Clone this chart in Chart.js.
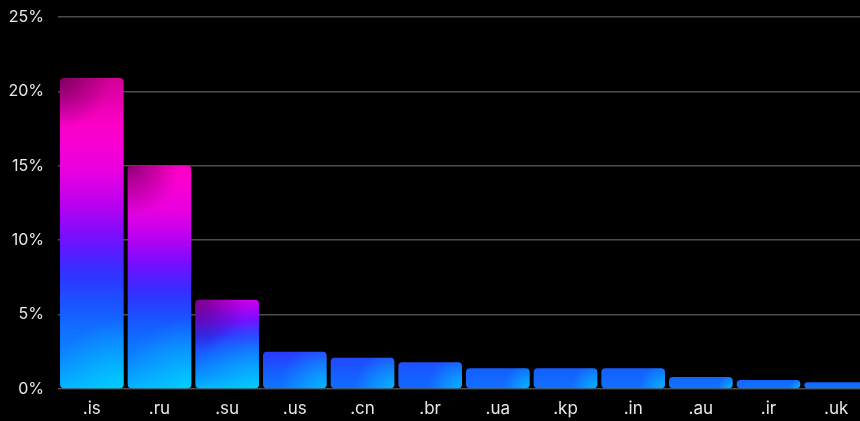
<!DOCTYPE html>
<html>
<head>
<meta charset="utf-8">
<script src="https://cdn.jsdelivr.net/npm/chart.js@4"></script>
<style>
  html, body { margin: 0; padding: 0; background: #000; overflow: hidden; }
  #wrap { width: 870px; height: 421px; position: relative; }
</style>
</head>
<body>
<div id="wrap"><canvas id="tldChart"></canvas></div>
<script>
const domains = ['.is', '.ru', '.su', '.us', '.cn', '.br', '.ua', '.kp', '.in', '.au', '.ir', '.uk'];
const shares = [20.9, 15.0, 6.0, 2.5, 2.1, 1.8, 1.4, 1.4, 1.4, 0.8, 0.6, 0.45];
const yTicks = [0, 5, 10, 15, 20, 25];

// colour ramp, cyan at the bottom up to magenta at the top
const ramp = [
  [0.00, [0, 220, 255]],
  [0.15, [8, 144, 255]],
  [0.30, [20, 96, 255]],
  [0.42, [46, 50, 255]],
  [0.52, [112, 16, 255]],
  [0.62, [184, 0, 240]],
  [0.72, [232, 0, 224]],
  [0.85, [255, 0, 204]],
  [1.00, [210, 0, 150]]
];

// value -> how far up the ramp the top of a bar reaches
const reach = [[0, 0.27], [1.5, 0.31], [2.5, 0.40], [6, 0.66], [15, 0.88], [21, 1.0]];

function lerpTable(table, x) {
  if (x <= table[0][0]) return table[0][1];
  for (let i = 1; i < table.length; i++) {
    if (x <= table[i][0]) {
      const k = (x - table[i - 1][0]) / (table[i][0] - table[i - 1][0]);
      return table[i - 1][1] + (table[i][1] - table[i - 1][1]) * k;
    }
  }
  return table[table.length - 1][1];
}

function rampColor(t) {
  t = Math.max(0, Math.min(1, t));
  for (let i = 1; i < ramp.length; i++) {
    if (t <= ramp[i][0]) {
      const [t0, c0] = ramp[i - 1];
      const [t1, c1] = ramp[i];
      const k = (t - t0) / (t1 - t0);
      return 'rgb(' + c0.map((c, j) => Math.round(c + (c1[j] - c) * k)).join(',') + ')';
    }
  }
  return 'rgb(' + ramp[ramp.length - 1][1].join(',') + ')';
}

function topT(v) { return lerpTable(reach, v); }
function bottomT(v) { return Math.min(topT(v) - 0.06, Math.max(0.08, 0.38 - 0.06 * v)); }

function barFill(ctx) {
  const chart = ctx.chart;
  if (!chart.chartArea) return '#1860ff';
  const v = ctx.raw;
  const ys = chart.scales.y;
  const yTop = ys.getPixelForValue(v);
  const yBase = ys.getPixelForValue(0);
  const g = chart.ctx.createLinearGradient(0, yTop, 0, yBase);
  const t0 = topT(v), t1 = bottomT(v);
  for (let i = 0; i <= 20; i++) {
    const p = i / 20;
    g.addColorStop(p, rampColor(t0 + (t1 - t0) * p));
  }
  return g;
}

// light glow bottom right, dark corner top left
const barShading = {
  id: 'barShading',
  afterDatasetsDraw(chart) {
    const c = chart.ctx;
    const meta = chart.getDatasetMeta(0);
    c.save();
    meta.data.forEach((bar, i) => {
      const { x, y, base, width } = bar.getProps(['x', 'y', 'base', 'width'], true);
      const left = x - width / 2;
      const h = base - y;
      c.beginPath();
      c.roundRect(left, y, width, h, Math.min(4, h / 2));
      const r = Math.min(width * 1.1, h * 1.3);
      const glow = c.createRadialGradient(left + width, base, 0, left + width, base, r);
      glow.addColorStop(0, 'rgba(0,225,255,0.6)');
      glow.addColorStop(1, 'rgba(0,225,255,0)');
      c.fillStyle = glow;
      c.fill();
      if (topT(shares[i]) > 0.55) {
        const rs = Math.min(width, h) * 0.8;
        const shade = c.createRadialGradient(left, y, 0, left, y, rs);
        shade.addColorStop(0, 'rgba(40,0,40,0.5)');
        shade.addColorStop(1, 'rgba(40,0,40,0)');
        c.fillStyle = shade;
        c.fill();
      }
    });
    c.restore();
  }
};

new Chart(document.getElementById('tldChart'), {
  type: 'bar',
  data: {
    labels: domains,
    datasets: [{
      data: shares,
      backgroundColor: barFill,
      borderRadius: 4,
      borderSkipped: false,
      barPercentage: 0.94,
      categoryPercentage: 1
    }]
  },
  options: {
    responsive: true,
    maintainAspectRatio: false,
    animation: false,
    events: [],
    layout: { padding: { top: 17, left: 0, right: 0, bottom: 0 } },
    plugins: { legend: { display: false }, tooltip: { enabled: false } },
    scales: {
      x: {
        grid: { display: false },
        border: { display: false },
        ticks: { color: '#e8e8e8', font: { family: 'Inter', size: 17 }, padding: 2 },
        afterFit: s => { s.height = 32; }
      },
      y: {
        min: 0,
        max: 25,
        grid: { color: '#4d4d4d', lineWidth: 1.5, drawTicks: true, tickLength: 11, tickColor: 'transparent' },
        border: { display: false },
        ticks: { color: '#e8e8e8', font: { family: 'Inter', size: 16 }, padding: 3, callback: v => v + '%' },
        afterBuildTicks: s => { s.ticks = yTicks.map(v => ({ value: v })); },
        afterFit: s => { s.width = 58; }
      }
    }
  },
  plugins: [barShading]
});
</script>
</body>
</html>
